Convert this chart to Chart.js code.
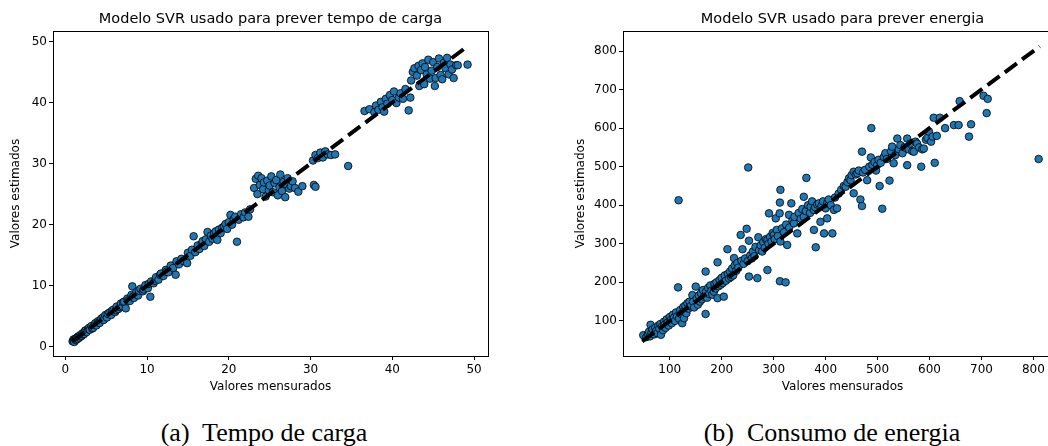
<!DOCTYPE html>
<html>
<head>
<meta charset="utf-8">
<script src="https://cdn.jsdelivr.net/npm/chart.js@4.4.1/dist/chart.umd.min.js"></script>
<style>
  html, body { margin: 0; padding: 0; background: #fff; }
  body { width: 1048px; height: 446px; position: relative; overflow: hidden; }
  canvas { position: absolute; top: 0; }
  #chartTempo { left: 0; }
  #chartEnergia { left: 560px; }
  .caption {
    position: absolute; top: 419px; height: 28px; line-height: 28px;
    font-family: "Liberation Serif", "DejaVu Serif", serif; font-size: 26px;
    color: #000; white-space: nowrap; transform: translateX(-50%);
  }
</style>
</head>
<body>
<canvas id="chartTempo" width="500" height="400"></canvas>
<canvas id="chartEnergia" width="510" height="400"></canvas>
<div class="caption" style="left:264px">(a)&nbsp; Tempo de carga</div>
<div class="caption" style="left:832px">(b)&nbsp; Consumo de energia</div>
<script>
// tempo de carga: [medido, estimado]
const tempoPoints = [
    [0.9,0.9],[1.0,1.2],[1.05,1.0],[1.1,0.8],[1.2,1.3],[1.25,1.2],[1.3,1.1],[1.4,1.5],[1.5,1.3],[1.5,1.6],
    [1.6,1.7],[1.7,1.5],[1.8,1.9],[1.9,1.7],[2.0,1.8],[2.1,2.2],[2.2,2.0],[2.3,2.1],[2.4,2.6],[2.5,2.7],
    [2.6,2.4],[2.8,2.9],[2.9,3.1],[3.0,2.8],[3.2,3.4],[3.3,3.0],[3.4,3.1],[3.6,3.7],[3.7,3.9],[3.8,3.5],
    [4.0,4.2],[4.1,4.0],[4.2,3.9],[4.4,4.6],[4.6,4.8],[4.7,4.4],[4.9,5.2],[5.1,4.8],[5.2,5.4],[5.4,5.6],
    [5.6,5.2],[5.7,5.9],[5.9,6.1],[6.1,5.7],[6.2,6.0],[6.3,6.6],[6.5,6.2],[6.7,6.5],[6.8,7.1],[7.0,6.6],
    [7.1,7.3],[7.2,7.4],[7.4,6.3],[7.6,7.9],[7.7,7.6],[7.9,7.5],[8.1,8.5],[8.2,9.9],[8.3,8.2],[8.4,8.0],
    [8.7,9.0],[8.9,8.4],[9.0,9.2],[9.2,9.5],[9.5,9.1],[9.6,9.4],[9.8,10.1],[10.1,9.6],[10.2,10.3],[10.4,8.2],
    [10.5,10.7],[10.8,10.4],[11.0,10.8],[11.1,11.4],[11.4,11.0],[11.6,11.8],[11.7,12.0],[12.0,11.6],[12.3,12.6],[12.4,12.3],
    [12.6,12.2],[12.9,13.3],[13.2,12.9],[13.5,11.8],[13.6,14.0],
    [13.9,13.5],[14.2,14.4],[14.5,14.0],[14.9,13.7],[15.0,15.4],[15.3,14.9],[15.5,15.9],[15.7,18.1],[15.9,15.5],[16.2,16.6],
    [16.4,16.0],[16.7,16.9],[16.8,17.3],[17.0,16.5],[17.2,17.6],[17.4,18.8],[17.6,17.2],[17.8,18.2],[18.0,17.7],[18.2,18.6],
    [18.4,18.9],[18.6,17.5],[18.8,19.2],[19.0,18.6],[19.2,19.5],[19.4,19.7],[19.6,20.1],[19.8,19.3],[20.0,20.4],[20.2,21.6],
    [20.4,20.0],[20.6,20.9],[20.8,21.3],[21.0,17.2],[21.2,20.8],[21.5,21.7],[21.8,21.2],[22.0,22.0],[22.4,21.3],[22.6,22.5],
    [23.1,26.0],[23.3,27.5],[23.5,25.0],[23.6,28.0],[23.8,26.5],[24.0,27.6],[24.2,25.8],[24.3,26.9],[24.5,24.6],[24.7,27.2],
    [24.9,25.6],[25.0,26.4],[25.2,27.9],[25.4,25.3],[25.6,26.8],[25.8,27.3],[26.0,24.8],[26.2,26.1],[26.3,28.2],[26.5,25.5],
    [26.7,27.0],[26.9,24.5],[27.0,26.6],[27.2,27.6],[27.4,25.9],[27.6,26.3],[27.8,27.1],[28.1,26.0],[28.5,25.4],[29.0,26.3],
    [30.4,26.5],[30.6,26.2],
    [30.3,30.5],[30.6,31.4],[30.9,30.9],[31.2,31.8],[31.5,31.0],[31.8,32.0],[32.1,31.5],[32.5,31.4],[33.0,31.5],[34.6,29.6],
    [36.6,38.6],[37.2,38.9],[37.8,38.4],[38.0,39.5],[38.3,38.8],[38.6,40.1],[38.8,39.2],[39.0,38.5],[39.2,40.6],[39.4,39.8],
    [39.7,41.2],[40.0,40.4],[40.2,41.8],[40.5,39.9],[40.8,40.8],[41.0,41.5],[41.3,40.6],[41.6,42.2],[42.0,38.7],[42.2,40.8],
    [42.3,43.6],[42.5,45.0],[42.7,45.6],[43.0,44.4],[43.2,46.0],[43.3,42.7],[43.5,45.3],[43.7,46.4],[43.9,43.0],[44.0,45.8],
    [44.2,44.6],[44.4,47.0],[44.6,43.9],[44.8,45.2],[45.0,46.6],[45.2,42.7],[45.3,44.0],[45.5,45.8],[45.7,47.2],[45.9,44.5],
    [46.1,43.8],[46.3,46.5],[46.5,45.6],[46.7,47.3],[46.9,44.6],[47.1,46.2],[47.3,45.4],[47.5,44.0],[47.8,46.1],[48.0,46.1],
    [49.2,46.2]
];

// consumo de energia: [medido, estimado]
const energiaPoints = [
    [49,63],[55,58],[58,66],[60,72],[62,60],[63,90],[65,70],[67,78],[70,65],[72,82],[73,72],[74,74],[76,68],[78,88],[80,80],
    [82,92],[83,64],[85,85],[87,76],[89,98],[90,90],[92,82],[94,104],[96,96],[98,88],[100,110],[102,102],[104,94],[106,116],[108,108],
    [110,100],[112,122],[114,112],[116,187],[117,413],[118,106],[120,128],[122,118],[124,94],[126,136],[127.5,107],[128,126],[130,140],[132,120],[134,146],
    [136,132],[138,150],[140,138],[143.6,167],[145,150],[147,135],[150,189],[152,158],[154,142],[156,166],[158,150],[160,172],[162,156],[164,180],[166,163],
    [169,118],[169,228],[170,176],[172,160],[174,186],[176,170],[178,192],[180,178],[182,168],[185,176],[186,196],[188,184],[190,200],[192,159],[192,252],
    [194,190],[196,206],[198,194],[200,212],[202,198],[204,163],[206,218],[208,204],[211,286],[212,222],[214,210],[216,228],[218,214],[220,236],[222,218],
    [223.7,263],[225,244],[228,230],[230,250],[232,238],[236.5,323],[238,256],[240,286],[242,248],[245,262],[248,339],[250,255],[251,498],[252.5,215],[252.5,308],
    [255,270],[258,262],[260,280],[263,268],[265,292],[268.6,211],[270.5,317],[272,284],[275,296],[278,280],[280,304],[283,290],[285,312],[288,232],[288,310],
    [290,300],[291,379],[293,318],[296,306],[298,328],[300.6,323],[302,312],[304,366],[306,336],[308,320],[311.5,379],[312,203],[312,407],[313,306],[313,440],
    [316,340],[320,330],[323,200],[324,350],[326,297],[329.5,375],[330,342],[334,405],[336,360],[339,353],[340,370],[345.5,327],[348,380],[352,365],[355,390],
    [358,370],[358,422],[362,385],[363,471],[366,400],[370,380],[371,396],[374,410],[377.5,336],[377.5,388],[380,395],[381,291],[384,402],[387,405],[390,357],
    [392,398],[395,410],[397,327],[400,392],[403,366],[403,405],[406,415],[410,400],[413,327],[416,388],[418,420],[422,392],[425,430],[430,440],[435,450],
    [438.5,448],[442,460],[445,470],[448,465],[450,478],[454,431],[454,487],[458,480],[461,483],[464,490],[467,415],[470,398],[470,539],[472,485],[476,492],
    [480,465],[484,500],[487,524],[488,600],[490,505],[494,512],[497,490],[499,504],[502,518],[504,450],[506,510],[509,391],[512,525],[515,535],[518,520],
    [523,464],[526,540],[528,552],[531,509],[534,530],[538,573],[541,545],[544,556],[548,535],[552,550],[557,504],[557,573],[560,545],[563,560],[567,540],
    [570,539],[573,565],[576,560],[580,550],[584,500],[586,545],[589,547],[593,570],[596,575],[599,591],[603,565],[606,578],[608,627],[610,510],[614,580],
    [620,627],[630,600],[647,608],[656,608],[658,670],[676,578],[680,610],[704,684],[710,639],[712,676],[810,520]
];

// linha ideal (y = x), extremos
const tempoLine = [0.9, 49.3];
const energiaLine = [47, 812];

// eixos
const tempoRange = [-1.5, 51.7];
const energiaXRange = [10, 855];
const energiaYRange = [9, 852];
const tempoTicks = [0, 10, 20, 30, 40, 50];
const energiaTicks = [100, 200, 300, 400, 500, 600, 700, 800];

const tickFont = { family: 'DejaVu Sans', size: 12 };

const titlePlugin = {
    id: 'axTitle',
    afterDraw(chart, args, opts) {
        const { ctx, chartArea } = chart;
        ctx.save();
        ctx.font = '14.5px "DejaVu Sans"';
        ctx.fillStyle = '#000';
        ctx.textAlign = 'center';
        ctx.textBaseline = 'middle';
        ctx.fillText(opts.text, (chartArea.left + chartArea.right) / 2, 19);
        ctx.restore();
    },
};

const framePlugin = {
    id: 'frame',
    afterDatasetsDraw(chart) {
        const { ctx, chartArea } = chart;
        ctx.save();
        ctx.strokeStyle = '#000';
        ctx.lineWidth = 1;
        ctx.strokeRect(Math.round(chartArea.left) + 0.5, Math.round(chartArea.top) + 0.5,
            Math.round(chartArea.right - chartArea.left), Math.round(chartArea.bottom - chartArea.top));
        ctx.restore();
    },
};

function makeScale(range, ticks, label, fitSize, isX, titlePad) {
    return {
        type: 'linear',
        min: range[0],
        max: range[1],
        afterBuildTicks: (scale) => {
            scale.ticks = ticks.map((v) => ({ value: v }));
        },
        afterFit: (scale) => {
            if (isX) scale.height = fitSize;
            else scale.width = fitSize;
        },
        border: { display: false },
        grid: {
            drawOnChartArea: false,
            drawTicks: true,
            tickLength: 4,
            color: '#000',
        },
        ticks: {
            font: tickFont,
            color: '#000',
            padding: isX ? 3 : 2,
            maxRotation: 0,
            autoSkip: false,
        },
        title: {
            display: true,
            text: label,
            font: tickFont,
            color: '#000',
            padding: titlePad,
        },
    };
}

function buildChart(el, points, lineEnds, xRange, yRange, xTicks, yTicks, title, yAxisWidth, padding, yTitlePad) {
    return new Chart(el, {
        type: 'scatter',
        data: {
            datasets: [
                {
                    type: 'line',
                    data: lineEnds.map((v) => ({ x: v, y: v })),
                    borderColor: '#000',
                    borderWidth: 4,
                    borderDash: [15, 6.5],
                    pointRadius: 0,
                    showLine: true,
                    fill: false,
                    order: 0,
                },
                {
                    data: points.map((p) => ({ x: p[0], y: p[1] })),
                    backgroundColor: '#1f77b4',
                    borderColor: '#000',
                    borderWidth: 0.8,
                    pointRadius: 3.8,
                    order: 1,
                },
            ],
        },
        options: {
            responsive: false,
            animation: false,
            devicePixelRatio: 1,
            events: [],
            layout: { padding },
            plugins: {
                legend: { display: false },
                tooltip: { enabled: false },
                axTitle: { text: title },
            },
            scales: {
                x: makeScale(xRange, xTicks, 'Valores mensurados', 44, true, { top: 0, bottom: 5.8 }),
                y: makeScale(yRange, yTicks, 'Valores estimados', yAxisWidth, false, { top: yTitlePad, bottom: 0 }),
            },
        },
        plugins: [titlePlugin, framePlugin],
    });
}

buildChart(document.getElementById('chartTempo'), tempoPoints, tempoLine,
    tempoRange, tempoRange, tempoTicks, tempoTicks,
    'Modelo SVR usado para prever tempo de carga', 53,
    { top: 31, right: 12, bottom: 0, left: 0 }, 8.8);

buildChart(document.getElementById('chartEnergia'), energiaPoints, energiaLine,
    energiaXRange, energiaYRange, energiaTicks, energiaTicks,
    'Modelo SVR usado para prever energia', 63,
    { top: 31, right: 8, bottom: 0, left: 0 }, 13.8);
</script>
</body>
</html>
